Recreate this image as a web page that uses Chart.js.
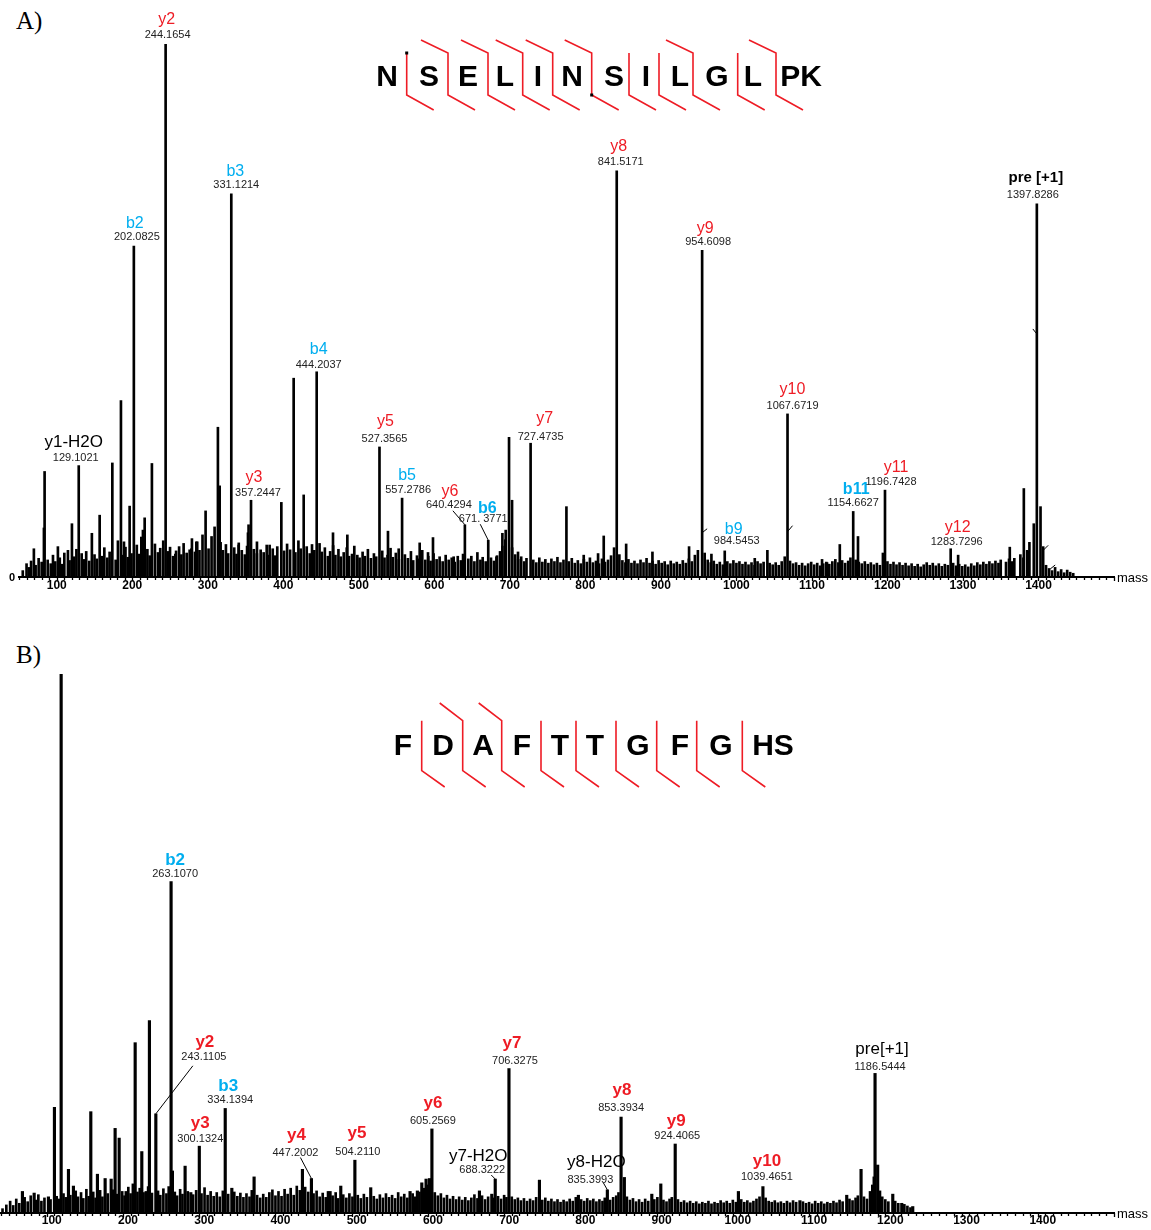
<!DOCTYPE html>
<html>
<head>
<meta charset="utf-8">
<script src="https://cdn.jsdelivr.net/npm/chart.js@4.4.1/dist/chart.umd.min.js"></script>
<style>
  body { margin: 0; background: #fff; width: 1151px; height: 1230px; overflow: hidden; position: relative; }
  .panel { position: absolute; left: 0; width: 1151px; }
  #wrapA { top: 0; height: 600px; }
  #wrapB { top: 600px; height: 630px; }
  .tag { position: absolute; left: 16px; font-family: "Liberation Serif", "Times New Roman", serif; font-size: 25px; color: #000; }
</style>
</head>
<body>
<div class="tag" style="top:7px">A)</div>
<div class="tag" style="top:641px">B)</div>
<div class="panel" id="wrapA"><canvas id="chartA" width="1151" height="600"></canvas></div>
<div class="panel" id="wrapB"><canvas id="chartB" width="1151" height="630"></canvas></div>
<script>
const tickLabels = [100, 200, 300, 400, 500, 600, 700, 800, 900, 1000, 1100, 1200, 1300, 1400]

// ---- panel A : NSELINSILGLPK ----
const sequenceA = ["N", "S", "E", "L", "I", "N", "S", "I", "L", "G", "L", "PK"]
const bSitesA = [0, 1, 1, 1, 1, 1, 0, 0, 1, 0, 1]
const ySitesA = [1, 1, 1, 1, 1, 1, 1, 1, 1, 1, 1]

const ionNameA = ["y1-H2O", "b2", "y2", "b3", "y3", "b4", "y5", "b5", "y6", "b6", "y7", "y8", "y9", "b9", "y10", "b11", "y11", "y12", "pre [+1]"]
const ionMassA = [129.1021, 202.0825, 244.1654, 331.1214, 357.2447, 444.2037, 527.3565, 557.2786, 640.4294, 671.3771, 727.4735, 841.5171, 954.6098, 984.5453, 1067.6719, 1154.6627, 1196.7428, 1283.7296, 1397.8286]
const ionMassTextA = ["129.1021", "202.0825", "244.1654", "331.1214", "357.2447", "444.2037", "527.3565", "557.2786", "640.4294", "671. 3771", "727.4735", "841.5171", "954.6098", "984.5453", "1067.6719", "1154.6627", "1196.7428", "1283.7296", "1397.8286"]
const ionIntA = [20.9, 62.1, 100, 71.9, 14.4, 38.5, 24.4, 14.8, 9.8, 6.9, 25.1, 76.2, 61.3, 4.9, 30.6, 12.3, 16.3, 5.3, 70.0]

// short leader stubs left on some peaks: [mass, intensity]
const stubMassA = [954.6098, 1067.6719, 1397.8286, 1406.2, 1415.5]
const stubIntA = [8.3, 8.5, 45.6, 5.0, 1.5]

const peaksA = [
  [69.7, 5.3], [83.0, 9.2], [83.9, 19.8], [101.5, 5.7], [114.8, 5.0], [120.1, 10.0], [146.5, 8.2], [156.8, 11.6],
  [173.6, 21.4], [185.0, 33.1], [189.0, 6.6], [196.5, 13.3], [214.1, 8.8], [216.4, 11.1], [226.0, 21.3], [257.0, 4.3],
  [278.2, 5.3], [284.8, 6.6], [297.1, 12.4], [313.4, 28.1], [315.7, 17.1], [340.9, 6.0], [353.2, 8.3], [365.1, 6.6],
  [381.9, 6.0], [397.4, 14.0], [413.7, 37.3], [427.0, 15.4], [465.8, 8.3], [484.8, 7.9], [538.6, 8.6], [552.8, 5.3],
  [580.6, 6.4], [591.6, 4.6], [598.2, 7.4], [625.6, 3.8], [682.2, 3.8], [690.1, 8.2], [694.5, 8.8], [698.9, 26.2],
  [702.9, 14.4], [710.8, 4.7], [774.9, 13.2], [797.8, 4.1], [816.8, 4.4], [824.3, 7.7], [854.0, 6.2], [888.8, 4.7],
  [937.3, 5.7], [966.9, 4.3], [1024.3, 3.5], [1041.0, 5.0], [1113.4, 3.3], [1120.0, 2.7], [1136.9, 6.1], [1161.0, 7.6],
  [1293.6, 4.1], [1362.0, 5.6], [1380.6, 16.6], [1385.0, 5.0], [1393.8, 10.0], [1402.7, 13.2], [1406.2, 5.7]
]

const noiseA = [
  [55, 1.2], [60, 2.5], [63, 1.8], [66, 3.0], [72, 2.2], [76, 3.5], [80, 2.8], [88, 3.2], [92, 2.5], [95, 4.1], [98, 2.9],
  [104, 3.6], [107, 2.4], [110, 4.5], [117, 3.1], [123, 3.8], [126, 5.2], [133, 4.4], [136, 3.3], [139, 4.8], [143, 3.0],
  [150, 4.2], [153, 3.4], [160, 3.9], [163, 5.5], [167, 3.6], [170, 4.7], [178, 3.2], [181, 6.8], [188, 4.1], [191, 5.6],
  [194, 3.7], [199, 4.4], [206, 6.0], [209, 4.3], [212, 7.5], [220, 5.2], [223, 4.0], [230, 6.2], [234, 4.6], [237, 5.4],
  [241, 6.8], [247, 4.8], [250, 5.6], [254, 3.9], [258, 4.9], [262, 5.7], [265, 4.2], [268, 6.3], [272, 4.5], [276, 5.1],
  [279, 7.2], [283, 4.7], [286, 6.6], [289, 5.0], [293, 7.9], [301, 5.3], [305, 7.6], [309, 9.4], [317, 6.5], [320, 5.0],
  [324, 6.1], [327, 4.4], [335, 5.5], [338, 4.3], [341, 6.4], [345, 5.0], [349, 4.2], [352, 5.8], [354, 9.8], [361, 5.2],
  [365, 4.4], [370, 5.1], [374, 4.6], [378, 6.0], [381, 4.1], [386, 5.3], [389, 4.0], [392, 5.7], [401, 4.9], [405, 6.2],
  [409, 5.1], [416, 4.6], [420, 6.8], [423, 5.3], [431, 5.7], [435, 4.4], [438, 6.1], [441, 5.0], [448, 6.3], [451, 4.7],
  [455, 5.5], [459, 3.9], [462, 4.8], [466, 5.9], [469, 4.1], [473, 5.2], [476, 3.8], [480, 4.6], [484, 5.5], [487, 3.9],
  [491, 4.3], [494, 5.8], [498, 4.1], [501, 3.6], [505, 4.7], [508, 3.9], [512, 5.2], [516, 3.5], [520, 4.4], [523, 3.8],
  [531, 4.9], [534, 3.6], [538, 4.1], [542, 5.4], [545, 3.7], [549, 4.5], [553, 3.3], [561, 4.2], [565, 3.5], [569, 4.8],
  [572, 3.1], [577, 4.0], [580, 3.4], [584, 5.0], [588, 3.2], [592, 3.9], [595, 3.0], [599, 4.4], [603, 3.3], [607, 3.8],
  [611, 2.9], [615, 4.1], [619, 3.2], [623, 3.6], [627, 2.8], [631, 3.9], [635, 3.1], [638, 4.3], [645, 3.4], [649, 3.9],
  [653, 2.9], [657, 4.6], [661, 3.2], [664, 3.7], [668, 2.9], [675, 3.6], [679, 3.0], [683, 4.0], [687, 4.8], [690, 5.8],
  [694, 7.0], [703, 5.5], [707, 4.2], [711, 3.3], [715, 3.8], [719, 2.9], [722, 3.5], [731, 3.2], [735, 2.7], [739, 3.6],
  [743, 2.8], [747, 3.3], [751, 2.6], [755, 3.4], [759, 2.9], [763, 3.7], [767, 2.7], [771, 3.2], [778, 2.9], [782, 3.5],
  [786, 2.6], [790, 3.1], [794, 2.5], [798, 3.3], [802, 2.8], [806, 3.6], [810, 2.7], [814, 3.0], [818, 2.5], [822, 3.4],
  [826, 2.8], [830, 3.2], [834, 4.0], [838, 5.5], [845, 4.2], [849, 3.1], [853, 2.7], [857, 3.3], [861, 2.6], [865, 3.0],
  [869, 2.5], [873, 3.2], [877, 2.7], [881, 3.5], [885, 2.6], [889, 3.0], [893, 2.4], [897, 3.1], [901, 2.6], [905, 2.9],
  [909, 2.3], [913, 3.0], [917, 2.5], [921, 2.8], [925, 2.4], [929, 3.1], [933, 2.6], [937, 3.4], [941, 2.9], [945, 4.1],
  [949, 5.0], [958, 4.5], [962, 3.2], [966, 2.7], [970, 3.0], [974, 2.4], [978, 2.8], [982, 2.3], [988, 2.9], [992, 2.5],
  [996, 3.1], [1000, 2.6], [1004, 2.9], [1008, 2.4], [1012, 2.8], [1016, 2.3], [1020, 2.7], [1024, 2.2], [1028, 2.9],
  [1032, 2.5], [1036, 2.8], [1044, 2.6], [1048, 2.3], [1052, 2.7], [1056, 2.2], [1060, 2.9], [1064, 3.8], [1071, 3.0],
  [1075, 2.5], [1079, 2.7], [1083, 2.2], [1087, 2.6], [1091, 2.1], [1095, 2.5], [1099, 2.8], [1103, 2.3], [1107, 2.6],
  [1111, 2.1], [1115, 2.5], [1119, 2.8], [1123, 2.4], [1127, 2.9], [1131, 3.3], [1135, 2.7], [1140, 3.1], [1144, 2.6],
  [1148, 3.0], [1151, 3.6], [1158, 3.2], [1162, 2.8], [1166, 2.5], [1170, 2.9], [1174, 2.4], [1178, 2.7], [1182, 2.3],
  [1186, 2.6], [1190, 2.2], [1194, 4.5], [1200, 2.9], [1204, 2.4], [1208, 2.8], [1212, 2.3], [1216, 2.7], [1220, 2.2],
  [1224, 2.6], [1228, 2.1], [1232, 2.5], [1236, 2.0], [1240, 2.4], [1244, 1.9], [1248, 2.3], [1252, 2.7], [1256, 2.2],
  [1260, 2.6], [1264, 2.1], [1268, 2.5], [1272, 2.0], [1276, 2.4], [1280, 2.2], [1287, 2.6], [1291, 2.1], [1295, 2.4],
  [1299, 2.0], [1303, 2.3], [1307, 1.9], [1311, 2.5], [1315, 2.1], [1319, 2.7], [1323, 2.3], [1327, 2.8], [1331, 2.4],
  [1335, 2.9], [1339, 2.5], [1343, 3.0], [1347, 2.6], [1350, 3.2], [1357, 2.8], [1361, 3.4], [1365, 2.9], [1368, 3.5],
  [1376, 4.2], [1380, 3.6], [1386, 4.8], [1388, 6.5], [1410, 2.2], [1414, 1.6], [1418, 1.2], [1422, 1.8], [1426, 1.0],
  [1430, 1.4], [1434, 0.8], [1438, 1.3], [1442, 0.9], [1446, 0.7]
]

// ---- panel B : FDAFTTGFGHS ----
const sequenceB = ["F", "D", "A", "F", "T", "T", "G", "F", "G", "HS"]
const bSitesB = [0, 1, 1, 0, 0, 0, 0, 0, 0]
const ySitesB = [1, 1, 1, 1, 1, 1, 1, 1, 1]

const ionNameB = ["b2", "y2", "b3", "y3", "y4", "y5", "y6", "y7-H2O", "y7", "y8-H2O", "y8", "y9", "y10", "pre[+1]"]
const ionMassB = [263.1070, 243.1105, 334.1394, 300.1324, 447.2002, 504.2110, 605.2569, 688.3222, 706.3275, 835.3993, 853.3934, 924.4065, 1039.4651, 1186.5444]
const ionMassTextB = ["263.1070", "243.1105", "334.1394", "300.1324", "447.2002", "504.2110", "605.2569", "688.3222", "706.3275", "835.3993", "853.3934", "924.4065", "1039.4651", "1186.5444"]
const ionIntB = [61.5, 18.4, 19.4, 12.4, 6.4, 9.8, 15.6, 6.3, 26.8, 4.3, 17.8, 12.8, 4.9, 25.9]
const stubMassB = []
const stubIntB = []

const peaksB = [
  [68.1, 4.0], [83.5, 3.7], [102.2, 3.0], [110.1, 19.6], [118.9, 100], [128.5, 8.1], [135.0, 5.0], [157.8, 18.8],
  [166.5, 7.2], [176.6, 6.4], [184.5, 6.3], [189.7, 15.7], [195.0, 13.9], [204.1, 4.0], [216.0, 31.6], [224.7, 11.4],
  [230.4, 4.0], [234.7, 35.7], [264.9, 7.8], [281.5, 8.7], [289.0, 3.8], [342.8, 4.6], [372.0, 6.7], [435.4, 8.1],
  [471.7, 4.0], [485.7, 5.0], [525.0, 4.7], [576.6, 4.0], [586.2, 4.1], [592.0, 5.6], [597.6, 6.3], [602.0, 6.4],
  [667.6, 4.1], [683.8, 3.5], [746.3, 6.1], [797.4, 3.3], [857.7, 6.6], [893.7, 3.5], [905.5, 5.4], [1007.3, 4.0],
  [1088.0, 2.3], [1149.4, 3.3], [1168.2, 8.1], [1185.3, 6.7], [1190.0, 8.9], [1209.8, 3.5], [1221.6, 1.8], [1236.0, 1.2]
]

const noiseB = [
  [42, 0.8], [47, 1.5], [52, 2.2], [56, 1.4], [60, 2.6], [64, 1.8], [71, 2.9], [75, 2.1], [79, 3.2], [86, 2.4], [89, 3.4],
  [93, 2.2], [97, 2.8], [105, 2.5], [113, 3.1], [116, 2.6], [122, 3.6], [125, 2.9], [131, 3.3], [138, 4.1], [141, 3.0],
  [145, 3.8], [148, 2.7], [152, 4.4], [155, 3.1], [161, 3.9], [164, 2.8], [170, 4.2], [173, 3.0], [180, 3.6], [187, 4.3],
  [192, 3.5], [199, 4.0], [202, 3.2], [207, 4.8], [210, 3.6], [213, 5.4], [219, 3.9], [222, 4.6], [227, 3.8], [233, 4.9],
  [238, 3.7], [246, 4.1], [249, 3.3], [253, 4.5], [257, 3.6], [260, 4.9], [268, 3.9], [271, 3.2], [275, 4.4], [278, 3.5],
  [285, 4.0], [292, 3.4], [296, 4.2], [303, 3.6], [307, 4.7], [311, 3.3], [315, 4.0], [319, 3.1], [323, 3.8], [327, 3.0],
  [331, 4.1], [338, 3.5], [346, 3.9], [350, 3.1], [354, 3.7], [358, 2.9], [362, 3.6], [366, 3.0], [369, 4.2], [376, 3.3],
  [380, 2.8], [384, 3.5], [388, 2.9], [392, 3.8], [396, 4.3], [400, 3.2], [404, 4.0], [408, 3.1], [412, 4.4], [416, 3.5],
  [420, 4.6], [424, 3.3], [428, 5.0], [432, 4.2], [439, 4.8], [443, 3.9], [450, 3.6], [454, 4.1], [458, 3.0], [462, 3.7],
  [466, 2.9], [469, 4.0], [475, 3.2], [479, 3.8], [482, 2.7], [489, 3.4], [493, 2.8], [497, 3.6], [501, 3.0], [508, 3.3],
  [512, 2.7], [516, 3.5], [520, 2.9], [529, 3.1], [533, 2.6], [537, 3.4], [541, 2.8], [545, 3.6], [549, 2.9], [553, 3.3],
  [557, 2.7], [561, 3.8], [565, 3.0], [569, 3.5], [573, 2.8], [580, 3.6], [583, 3.0], [589, 3.9], [595, 4.6], [600, 5.2],
  [609, 3.8], [613, 3.2], [617, 3.6], [621, 2.8], [625, 3.3], [629, 2.6], [633, 3.1], [637, 2.5], [641, 3.0], [645, 2.4],
  [649, 2.9], [653, 2.3], [657, 2.8], [661, 3.4], [665, 2.7], [671, 3.2], [675, 2.5], [679, 3.0], [686, 2.8], [692, 3.1],
  [696, 2.6], [700, 3.3], [703, 2.9], [710, 3.0], [714, 2.5], [718, 2.8], [722, 2.3], [726, 2.7], [730, 2.2], [734, 2.6],
  [738, 2.3], [742, 2.9], [750, 2.4], [754, 2.8], [758, 2.2], [762, 2.6], [766, 2.1], [770, 2.5], [774, 2.0], [778, 2.4],
  [782, 2.1], [786, 2.6], [790, 2.2], [794, 2.9], [801, 2.5], [805, 2.2], [809, 2.7], [813, 2.3], [817, 2.6], [821, 2.1],
  [825, 2.5], [829, 2.2], [832, 2.8], [839, 2.4], [843, 2.9], [847, 3.2], [850, 3.8], [861, 3.0], [865, 2.4], [869, 2.7],
  [873, 2.1], [877, 2.5], [881, 2.0], [885, 2.6], [889, 2.2], [897, 2.5], [901, 2.9], [909, 2.4], [913, 2.1], [917, 2.6],
  [920, 2.9], [928, 2.5], [932, 2.0], [936, 2.3], [940, 1.9], [944, 2.2], [948, 1.8], [952, 2.1], [956, 1.7], [960, 2.0],
  [964, 1.8], [968, 2.2], [972, 1.7], [976, 2.0], [980, 1.8], [984, 2.3], [988, 1.9], [992, 2.2], [996, 1.8], [1000, 2.4],
  [1004, 2.0], [1011, 2.5], [1015, 2.0], [1019, 2.3], [1023, 1.9], [1027, 2.2], [1031, 2.6], [1035, 3.0], [1043, 2.8],
  [1047, 2.2], [1051, 2.0], [1055, 2.3], [1059, 1.9], [1063, 2.1], [1067, 1.8], [1071, 2.2], [1075, 1.9], [1079, 2.3],
  [1083, 2.0], [1092, 2.1], [1096, 1.8], [1100, 2.0], [1104, 1.7], [1108, 2.2], [1112, 1.8], [1116, 2.1], [1120, 1.7],
  [1124, 2.0], [1128, 1.8], [1132, 2.2], [1136, 1.9], [1140, 2.4], [1144, 2.1], [1153, 2.6], [1157, 2.3], [1161, 2.8],
  [1164, 3.2], [1172, 3.0], [1176, 2.6], [1180, 4.0], [1183, 5.2], [1193, 4.1], [1196, 3.0], [1200, 2.5], [1204, 2.1],
  [1213, 2.2], [1217, 1.8], [1225, 1.6], [1229, 1.3], [1233, 1.0]
]

const RED = "#ee1c25"
const BLUE = "#00aeef"
const FONT = '"Liberation Sans", Arial, sans-serif'

// label offsets from the peak top: [nameDx, nameDy, massDx, massDy, leaderDx, leaderDy]
const layoutA = {
  min: 50, max: 1500, padding: {left: 19, right: 37, top: 44, bottom: 9}, barWidth: 2,
  tickDx: 0, tickDy: 9,
  seqBaseline: 86, letterX: [387, 429, 468, 505, 538, 572, 614, 646, 680, 717, 753, 801],
  cutX: [406.7, 448, 488, 522.7, 552.7, 591.7, 629, 659, 693, 737.7, 776],
  cut: {top: 53, bottom: 95, armTop: 40, armBottom: 110, arm: 27}, dots: [[0, "top"], [5, "bottom"]],
  bold: ["b6", "b11", "pre [+1]"], nameSize: 16, zero: true,
  stubEnd: [[5, -4], [5, -6], [-4, -5], [5, -5], [5, -4]],
  labelAt: [
    [-5, -23, -3, -8], [1, -22, 3, -9], [1, -24, 2, -9], [4, -22, 5, -9], [3, -23, 7, -7], [2, -22, 2, -7],
    [6, -25, 5, -8], [5, -23, 6, -8], [-15, -33, -16, -20, -12, -14], [-1, -32, -5, -21, -8, -16], [14, -25, 10, -6],
    [2, -24, 4, -9], [3, -22, 6, -8], [9, -21, 12, -10], [5, -24, 5, -8], [3, -22, 0, -8], [11, -23, 6, -8],
    [7, -21, 6, -7], [-1, -26, -4, -9]
  ]
}
const layoutB = {
  min: 40, max: 1500, padding: {left: 1, right: 37, top: 74, bottom: 3}, barWidth: 2.5,
  tickDx: 5, tickDy: 8,
  seqBaseline: 155, letterX: [403, 443, 483, 522, 560, 595, 638, 680, 721, 773],
  cutX: [421.7, 462.7, 501.7, 541, 576, 616, 656.7, 696.7, 742.3],
  cut: {top: 120.7, bottom: 170.7, armTop: 103, armBottom: 187, arm: 23}, dots: [],
  bold: ["b2", "y2", "b3", "y3", "y4", "y5", "y6", "y7", "y8", "y9", "y10"], nameSize: 17, zero: false,
  stubEnd: [],
  labelAt: [
    [4, -21, 4, -8], [49, -72, 48, -57, 37, -48], [3, -22, 5, -8], [1, -23, 1, -7], [-15, -43, -16, -26, -11, -21],
    [2, -27, 3, -8], [1, -26, 1, -8], [-17, -23, -13, -9, -4, -4], [3, -25, 6, -8], [-11, -28, -17, -10, -4, -7],
    [1, -27, 0, -9], [1, -23, 2, -8], [4, -25, 4, -10], [7, -24, 5, -6]
  ]
}

function ionColor(name) {
  if (name.includes("H2O") || name.startsWith("pre")) return "#000"
  return name.startsWith("b") ? BLUE : RED
}

function spectrumPlugin(ions, seq, lay) {
  return {
    id: "spectrum",
    afterDatasetsDraw(chart) {
      const {ctx, chartArea} = chart
      const x = chart.scales.x, y = chart.scales.y
      const base = chartArea.bottom
      ctx.save()
      // small ticks along the mass axis
      ctx.strokeStyle = "#000"
      ctx.lineWidth = 1.3
      ctx.beginPath()
      for (let m = Math.ceil(lay.min / 10) * 10; m <= lay.max; m += 10) {
        const px = Math.round(x.getPixelForValue(m)) + 0.5
        ctx.moveTo(px, base)
        ctx.lineTo(px, base + (m % 100 === 0 ? 4 : 3))
      }
      ctx.stroke()
      // tick labels
      ctx.fillStyle = "#000"
      ctx.font = `bold 12px ${FONT}`
      ctx.textAlign = "center"
      ctx.textBaseline = "middle"
      tickLabels.forEach((t) => ctx.fillText(String(t), x.getPixelForValue(t) + lay.tickDx, base + lay.tickDy))
      ctx.font = `13px ${FONT}`
      ctx.textAlign = "left"
      ctx.fillText("mass", x.right + 3, base + 1)
      if (lay.zero) {
        ctx.font = `bold 11px ${FONT}`
        ctx.fillText("0", 9, base + 1)
      }
      // leftover leader stubs
      ctx.strokeStyle = "#000"
      ctx.lineWidth = 1
      ions.stubMass.forEach((m, i) => {
        const px = x.getPixelForValue(m), py = y.getPixelForValue(ions.stubInt[i])
        const [dx, dy] = lay.stubEnd[i]
        ctx.beginPath()
        ctx.moveTo(px, py)
        ctx.lineTo(px + dx, py + dy)
        ctx.stroke()
      })
      // ion labels
      ctx.textAlign = "center"
      ions.name.forEach((name, i) => {
        const px = x.getPixelForValue(ions.mass[i])
        const top = y.getPixelForValue(ions.int[i])
        const [ndx, ndy, mdx, mdy, lx, ly] = lay.labelAt[i]
        const plain = name.includes("H2O") || name.startsWith("pre")
        const weight = lay.bold.includes(name) ? "bold " : ""
        const size = name.startsWith("pre") && weight ? 15 : (plain ? 17 : lay.nameSize)
        ctx.fillStyle = ionColor(name)
        ctx.font = `${weight}${size}px ${FONT}`
        ctx.fillText(name, px + ndx, top + ndy)
        ctx.fillStyle = "#222"
        ctx.font = `11px ${FONT}`
        ctx.fillText(ions.text[i], px + mdx, top + mdy)
        if (lx !== undefined) {
          ctx.strokeStyle = "#000"
          ctx.lineWidth = 1
          ctx.beginPath()
          ctx.moveTo(px + lx, top + ly)
          ctx.lineTo(px, top)
          ctx.stroke()
        }
      })
      // peptide sequence with fragment marks
      ctx.fillStyle = "#000"
      ctx.font = `bold 30px ${FONT}`
      ctx.textBaseline = "alphabetic"
      seq.letters.forEach((l, i) => ctx.fillText(l, lay.letterX[i], lay.seqBaseline))
      const c = lay.cut
      ctx.strokeStyle = RED
      ctx.lineWidth = 1.6
      lay.cutX.forEach((cx, i) => {
        ctx.beginPath()
        if (seq.b[i]) {
          ctx.moveTo(cx - c.arm, c.armTop)
          ctx.lineTo(cx, c.top)
        } else {
          ctx.moveTo(cx, c.top)
        }
        ctx.lineTo(cx, c.bottom)
        if (seq.y[i]) ctx.lineTo(cx + c.arm, c.armBottom)
        ctx.stroke()
      })
      ctx.fillStyle = "#000"
      lay.dots.forEach(([i, end]) => {
        ctx.fillRect(lay.cutX[i] - 1.5, (end === "top" ? c.top : c.bottom) - 1.5, 3, 3)
      })
      ctx.restore()
    }
  }
}

function makeChart(id, noise, peaks, ions, seq, lay) {
  const toXY = (list) => list.map(([m, v]) => ({x: m, y: v}))
  return new Chart(document.getElementById(id), {
    type: "bar",
    data: {
      datasets: [
        {data: toXY(noise), backgroundColor: "#000", barThickness: 2, grouped: false},
        {data: toXY(peaks), backgroundColor: "#000", barThickness: lay.barWidth, grouped: false},
        {data: ions.mass.map((m, i) => ({x: m, y: ions.int[i]})), backgroundColor: "#000", barThickness: lay.barWidth, grouped: false}
      ]
    },
    options: {
      responsive: false,
      animation: false,
      devicePixelRatio: 1,
      layout: {padding: lay.padding},
      plugins: {legend: {display: false}, tooltip: {enabled: false}},
      scales: {
        x: {
          type: "linear", min: lay.min, max: lay.max, offset: false,
          afterFit(scale) { scale.height = 14 },
          grid: {display: false},
          border: {display: true, color: "#000", width: 2},
          ticks: {display: false, stepSize: 100}
        },
        y: {display: false, min: 0, max: 100}
      }
    },
    plugins: [spectrumPlugin(ions, seq, lay)]
  })
}

makeChart("chartA", noiseA, peaksA,
  {name: ionNameA, mass: ionMassA, text: ionMassTextA, int: ionIntA, stubMass: stubMassA, stubInt: stubIntA},
  {letters: sequenceA, b: bSitesA, y: ySitesA}, layoutA)
makeChart("chartB", noiseB, peaksB,
  {name: ionNameB, mass: ionMassB, text: ionMassTextB, int: ionIntB, stubMass: stubMassB, stubInt: stubIntB},
  {letters: sequenceB, b: bSitesB, y: ySitesB}, layoutB)
</script>
</body>
</html>
